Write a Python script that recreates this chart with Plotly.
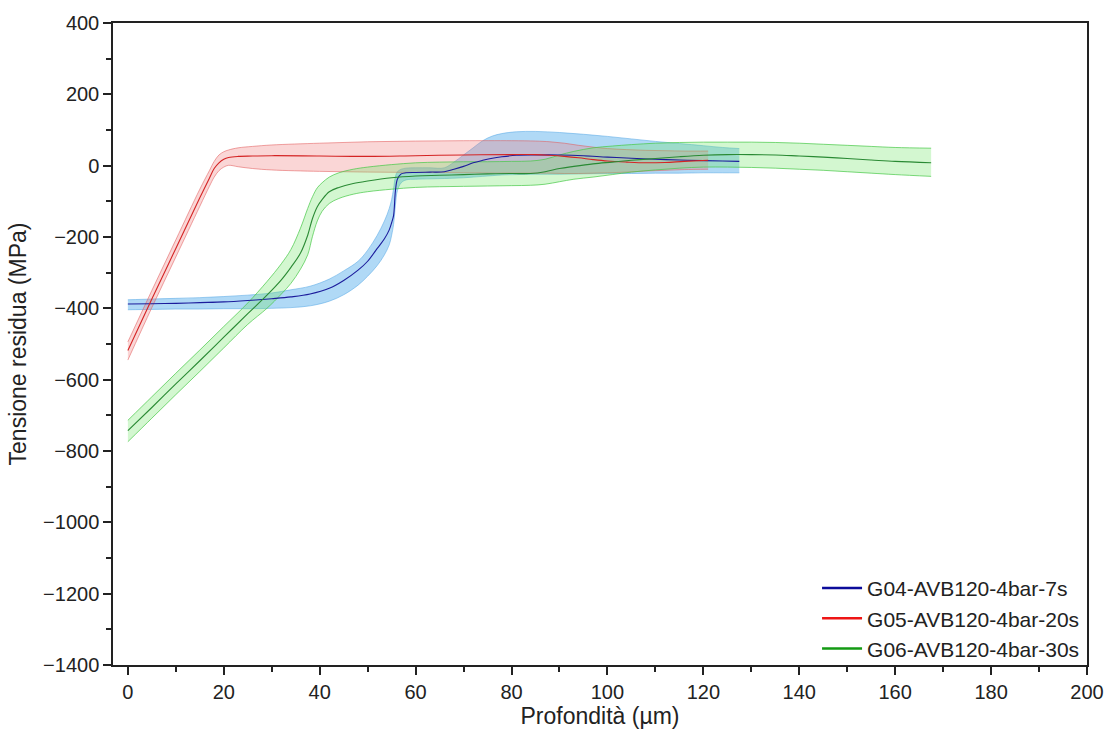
import plotly.graph_objects as go

# Depth profiles of residual stress (mean curve with lower/upper envelope)
depth_g04 = [0, 5, 10, 15, 20, 25, 30, 34, 38, 42, 45, 48, 50, 52, 53.5, 54.5, 55, 55.4, 55.8, 56.2,
             57, 58, 60, 63, 66, 68, 70, 72, 74, 76, 78, 81, 85, 90, 95, 100, 105, 110, 115, 120, 124, 127.5]
mean_g04 = [-388, -387, -386, -384, -382, -378, -373, -368, -360, -344, -322, -293, -268, -232, -205, -180,
            -160, -140, -70, -38, -23, -20, -19, -18, -17, -10, -2, 8, 15, 21, 25, 29, 30, 30, 28, 24, 21,
            18, 16, 14, 13, 12]
upper_g04 = [-376, -374, -372, -370, -367, -363, -357, -348, -338, -318, -295, -268, -237, -195, -155, -120,
             -95, -65, -30, -17, -10, -7, -6, -6, -6, 10, 30, 50, 70, 83, 90, 95, 96, 93, 88, 82, 75, 68,
             62, 56, 51, 48]
lower_g04 = [-404, -403, -402, -402, -401, -401, -400, -398, -393, -380, -362, -335, -310, -280, -250, -222,
             -195, -165, -110, -70, -48, -40, -38, -37, -36, -35, -34, -32, -30, -28, -26, -25, -24, -24,
             -23, -22, -22, -21, -21, -20, -20, -20]

depth_g05 = [0, 5, 10, 15, 17, 18, 19, 20, 21, 23, 26, 30, 40, 50, 60, 70, 80, 85, 88, 91, 94, 97, 100,
             104, 108, 112, 116, 121]
mean_g05 = [-518, -374, -232, -90, -35, -8, 8, 18, 23, 26, 27, 28, 27, 26, 28, 30, 31, 31, 29, 26, 22, 17,
            13, 10, 8, 9, 12, 15]
upper_g05 = [-494, -350, -208, -66, -14, 12, 30, 39, 44, 50, 54, 58, 63, 67, 69, 70, 70, 69, 67, 63, 57,
             52, 48, 45, 43, 42, 41, 41]
lower_g05 = [-545, -398, -256, -114, -58, -32, -14, -4, 1, -3, -8, -12, -16, -18, -19, -20, -21, -21, -21,
             -22, -22, -21, -20, -18, -15, -13, -11, -10]

depth_g06 = [0, 5, 10, 15, 20, 25, 29, 32, 34, 36, 37.5, 38.5, 39.5, 40.5, 42, 44, 47, 50, 55, 60, 65, 70,
             75, 80, 84, 87, 90, 93, 97, 101, 105, 110, 115, 120, 125, 130, 135, 140, 145, 150, 155, 160,
             167.5]
mean_g06 = [-743, -678, -612, -547, -481, -415, -363, -320, -285, -245, -195, -148, -115, -95, -73, -61,
            -50, -43, -34, -29, -27, -25, -23, -22, -22, -17, -8, -2, 5, 10, 15, 20, 25, 29, 31, 31, 30, 27,
            24, 20, 16, 12, 8]
upper_g06 = [-714, -648, -582, -517, -451, -385, -325, -275, -235, -175, -120, -87, -62, -48, -32, -20,
             -10, -4, 3, 8, 10, 11, 11, 12, 13, 18, 30, 40, 50, 55, 59, 63, 65, 66, 66, 66, 65, 63, 60, 57,
             54, 51, 49]
lower_g06 = [-774, -708, -642, -577, -511, -445, -400, -360, -330, -290, -250, -198, -155, -128, -106, -92,
             -80, -73, -66, -61, -59, -58, -57, -56, -55, -52, -45, -38, -32, -25, -18, -12, -7, -4, -4,
             -5, -7, -10, -13, -17, -21, -25, -30]

names = ["G04-AVB120-4bar-7s", "G05-AVB120-4bar-20s", "G06-AVB120-4bar-30s"]
depths = [depth_g04, depth_g05, depth_g06]
means = [mean_g04, mean_g05, mean_g06]
uppers = [upper_g04, upper_g05, upper_g06]
lowers = [lower_g04, lower_g05, lower_g06]

fill_colors = ["rgba(80,170,235,0.45)", "rgba(240,120,120,0.30)", "rgba(110,230,100,0.30)"]
edge_colors = ["rgba(90,170,230,0.55)", "rgba(225,90,90,0.55)", "rgba(70,200,70,0.70)"]
line_colors = ["#1c1c9c", "#d42424", "#2a8a34"]
legend_colors = ["#0c0c9a", "#ee1515", "#139a13"]

fig = go.Figure()

# Envelopes
for x, hi, lo, fc, ec in zip(depths, uppers, lowers, fill_colors, edge_colors):
    fig.add_trace(go.Scatter(x=x, y=hi, mode="lines", line=dict(color=ec, width=1, shape="spline"),
                             showlegend=False, hoverinfo="skip"))
    fig.add_trace(go.Scatter(x=x, y=lo, mode="lines", line=dict(color=ec, width=1, shape="spline"),
                             fill="tonexty", fillcolor=fc, showlegend=False, hoverinfo="skip"))

# Mean curves
for x, y, lc, name in zip(depths, means, line_colors, names):
    fig.add_trace(go.Scatter(x=x, y=y, mode="lines", line=dict(color=lc, width=1.1, shape="spline"),
                             name=name, showlegend=False))

# Legend entries
for lc, name in zip(legend_colors, names):
    fig.add_trace(go.Scatter(x=[None], y=[None], mode="lines", line=dict(color=lc, width=2.5),
                             name=name))

font_family = "Liberation Sans, Arial, sans-serif"
axis_common = dict(
    showline=True, linecolor="#222", linewidth=1.5, mirror=True,
    ticks="outside", ticklen=8, tickwidth=1.5, tickcolor="#222",
    showgrid=False, zeroline=False,
    tickfont=dict(family=font_family, size=20, color="#222"),
)

fig.update_layout(
    width=1116, height=740,
    margin=dict(l=113, r=26, t=18, b=75),
    paper_bgcolor="white", plot_bgcolor="white",
    font=dict(family=font_family, color="#222"),
    xaxis=dict(
        range=[-3.1, 200], dtick=20, tick0=0,
        minor=dict(dtick=10, ticks="outside", ticklen=5, tickwidth=1.5, tickcolor="#222"),
        title=dict(text="Profondità (µm)", font=dict(family=font_family, size=23, color="#222"), standoff=2),
        **axis_common,
    ),
    yaxis=dict(
        range=[-1400, 400], dtick=200, tick0=0,
        minor=dict(dtick=100, ticks="outside", ticklen=5, tickwidth=1.5, tickcolor="#222"),
        title=dict(text="Tensione residua (MPa)", font=dict(family=font_family, size=23, color="#222"), standoff=10),
        **axis_common,
    ),
    legend=dict(
        x=0.998, y=-0.006, xanchor="right", yanchor="bottom",
        bgcolor="rgba(0,0,0,0)", borderwidth=0,
        font=dict(family=font_family, size=21, color="#222"),
        traceorder="normal", tracegroupgap=0, itemwidth=40,
    ),
    showlegend=True,
)

fig.write_html("out.html")
